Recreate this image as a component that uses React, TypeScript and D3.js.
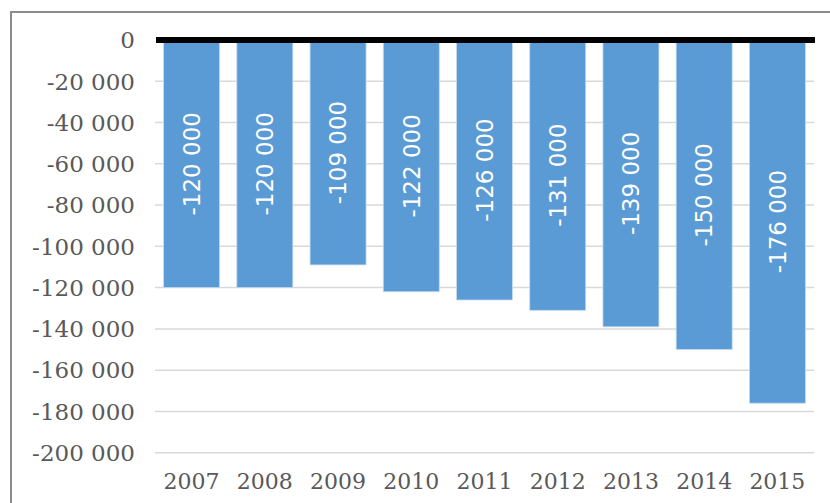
import * as d3 from "d3";

const years = ["2007", "2008", "2009", "2010", "2011", "2012", "2013", "2014", "2015"];
const values = [-120000, -120000, -109000, -122000, -126000, -131000, -139000, -150000, -176000];
const yTicks = [0, -20000, -40000, -60000, -80000, -100000, -120000, -140000, -160000, -180000, -200000];

const WIDTH = 830;
const HEIGHT = 503;
const PLOT = { left: 155, right: 814, top: 40, bottom: 452.7 };

const fmt = (v: number) => {
  if (v === 0) return "0";
  const s = d3.format(",")(Math.abs(v)).replace(/,/g, " ");
  return (v < 0 ? "-" : "") + s;
};

export default function App() {
  const x = d3
    .scaleBand<string>()
    .domain(years)
    .range([PLOT.left, PLOT.right])
    .paddingInner(0.235)
    .paddingOuter(0.1175);
  const y = d3.scaleLinear().domain([0, -200000]).range([PLOT.top, PLOT.bottom]);

  return (
    <svg
      width={WIDTH}
      height={HEIGHT}
      style={{ position: "absolute", left: 0, top: 0, background: "#fff" }}
    >
      {/* outer chart frame */}
      <rect x={11} y={12} width={WIDTH} height={HEIGHT} fill="none" stroke="#8c8c8c" strokeWidth={2} />

      {/* gridlines + y labels */}
      {yTicks.map((t) => (
        <g key={t}>
          {t !== 0 && (
            <line x1={PLOT.left} x2={PLOT.right} y1={y(t)} y2={y(t)} stroke="#d9d9d9" strokeWidth={1.5} />
          )}
          <text
            x={135}
            y={y(t)}
            dy="0.36em"
            textAnchor="end"
            fontFamily="DejaVu Serif"
            fontSize={23}
            fill="#595959"
          >
            {fmt(t)}
          </text>
        </g>
      ))}

      {/* bars */}
      {values.map((v, i) => (
        <rect
          key={years[i]}
          x={x(years[i])}
          y={y(0)}
          width={x.bandwidth()}
          height={y(v) - y(0)}
          fill="#5b9bd5"
          stroke="#c5dcf0"
          strokeWidth={0.8}
        />
      ))}

      {/* value labels */}
      {values.map((v, i) => {
        const cx = (x(years[i]) as number) + x.bandwidth() / 2;
        const cy = (y(0) + y(v)) / 2;
        return (
          <text
            key={"l" + years[i]}
            transform={`translate(${cx},${cy}) rotate(-90)`}
            textAnchor="middle"
            dy="0.36em"
            fontFamily="DejaVu Sans"
            fontSize={23}
            fill="#ffffff"
          >
            {fmt(v)}
          </text>
        );
      })}

      {/* zero line */}
      <line x1={PLOT.left + 1} x2={PLOT.right + 1} y1={y(0)} y2={y(0)} stroke="#000" strokeWidth={6} />

      {/* x labels */}
      {years.map((yr) => (
        <text
          key={"x" + yr}
          x={(x(yr) as number) + x.bandwidth() / 2}
          y={489}
          textAnchor="middle"
          fontFamily="DejaVu Serif"
          fontSize={22}
          fill="#595959"
        >
          {yr}
        </text>
      ))}
    </svg>
  );
}
